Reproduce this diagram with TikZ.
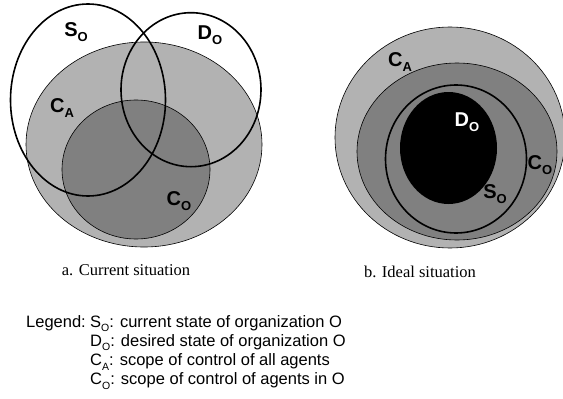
\documentclass[tikz,border=0pt]{standalone}
\usepackage{fontspec}
\setmainfont{Liberation Serif}
\setsansfont{Liberation Sans}
\usepackage{tikz}
\usetikzlibrary{positioning}

% set label with lowered subscript
\newcommand{\setlbl}[2]{#1\raisebox{-5pt}{\fontsize{13}{13}\selectfont #2}}
\newcommand{\legsub}[2]{#1\raisebox{-4.5pt}{\fontsize{10.5}{11}\selectfont #2}}

\begin{document}
\begin{tikzpicture}[
    x=1pt, y=-1pt,
    scopeA/.style={fill=black!30, draw=black, line width=0.6pt},
    scopeO/.style={fill=black!50, draw=black, line width=0.6pt},
    stateset/.style={draw=black, line width=1.6pt},
    setlabel/.style={font=\fontsize{20}{21}\selectfont\sffamily\bfseries, inner sep=0pt},
    caption/.style={font=\fontsize{16.5}{18}\selectfont, anchor=base, inner sep=0pt},
    legline/.style={font=\fontsize{16.5}{19}\selectfont\sffamily, anchor=base west, inner sep=0pt},
]
\useasboundingbox (0,0) rectangle (563,399);

% ============ a. Current situation ============
\fill[scopeA] (144,144.5) ellipse [x radius=118, y radius=102.5];
\fill[scopeO] (136,169.5) ellipse [x radius=74, y radius=69.5];
\draw[stateset] (88,100) ellipse [x radius=77.5, y radius=96];
\draw[stateset] (191,89.7) ellipse [x radius=70, y radius=77];

\node[setlabel] (aS) at (76,32) {\setlbl{S}{O}};
\node[setlabel] (aD) at (210,35) {\setlbl{D}{O}};
\node[setlabel] (aCA) at (62,108) {\setlbl{C}{A}};
\node[setlabel] (aCO) at (179,201) {\setlbl{C}{O}};

% ============ b. Ideal situation ============
\fill[scopeA] (450,137.5) ellipse [x radius=115, y radius=110.5];
\fill[scopeO] (457,151.5) ellipse [x radius=100, y radius=88.5];
\draw[stateset] (456,159) ellipse [x radius=70.5, y radius=74];
\fill[black] (448.5,148) ellipse [x radius=48.5, y radius=56];

\node[setlabel] (bCA) at (400,62) {\setlbl{C}{A}};
\node[setlabel, text=white] (bD) at (467,122) {\setlbl{D}{O}};
\node[setlabel] (bCO) at (540,165) {\setlbl{C}{O}};
\node[setlabel] (bS) at (495,194) {\setlbl{S}{O}};

% Captions
\node[caption] (capa) at (126,275) {a. Current situation};
\node[caption] (capb) at (420,277) {b. Ideal situation};

% ============ Legend ============
\node[legline] (legend) at (26,327) {Legend:};
\node[legline] (legS) at (90,327) {\legsub{S}{O}: current state of organization O};
\node[legline] (legD) at (90,346.3) {\legsub{D}{O}: desired state of organization O};
\node[legline] (legCA) at (90,365.6) {\legsub{C}{A}: scope of control of all agents};
\node[legline] (legCO) at (90,384.9) {\legsub{C}{O}: scope of control of agents in O};

\end{tikzpicture}
\end{document}
